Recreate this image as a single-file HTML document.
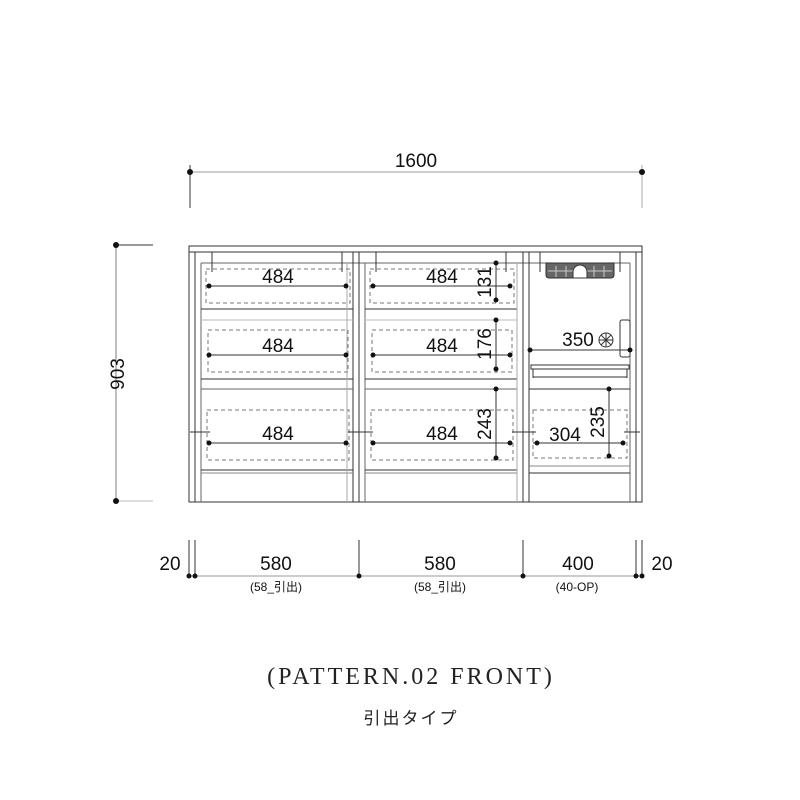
<!DOCTYPE html>
<html><head><meta charset="utf-8"><style>
html,body{margin:0;padding:0;background:#fff;}
svg{display:block}
text{font-family:"Liberation Sans","Noto Sans CJK JP",sans-serif;fill:#111}
</style></head><body>
<svg width="800" height="800" viewBox="0 0 800 800" xmlns="http://www.w3.org/2000/svg">
<g stroke="#333" stroke-width="1" fill="none">
<line x1="190" y1="172" x2="642" y2="172" stroke="#999"/>
<line x1="190" y1="165" x2="190" y2="208"/>
<line x1="642" y1="165" x2="642" y2="208" stroke="#aaa"/>
<line x1="116" y1="245" x2="116" y2="501" stroke="#aaa" stroke-width="1.5"/>
<line x1="116" y1="245" x2="153" y2="245"/>
<line x1="116" y1="501" x2="153" y2="501" stroke="#bbb"/>
<rect x="189" y="246" width="453" height="256"/>
<line x1="189" y1="252" x2="642" y2="252"/>
<line x1="195" y1="252" x2="195" y2="502"/>
<line x1="201" y1="263" x2="201" y2="502" stroke="#666"/>
<line x1="636" y1="252" x2="636" y2="502"/>
<line x1="630" y1="263" x2="630" y2="502" stroke="#666"/>
<line x1="201" y1="263" x2="630" y2="263" stroke="#666"/>
<line x1="353" y1="252" x2="353" y2="502"/>
<line x1="359" y1="252" x2="359" y2="502"/>
<line x1="365" y1="263" x2="365" y2="502" stroke="#666"/>
<line x1="523" y1="252" x2="523" y2="502"/>
<line x1="529" y1="252" x2="529" y2="502"/>
<line x1="212" y1="252" x2="212" y2="272"/><line x1="342" y1="252" x2="342" y2="272"/>
<line x1="376" y1="252" x2="376" y2="272"/><line x1="506" y1="252" x2="506" y2="272"/>
<line x1="540" y1="252" x2="540" y2="272"/><line x1="620" y1="252" x2="620" y2="272"/>
<line x1="201" y1="309" x2="353" y2="309"/>
<line x1="201" y1="320" x2="353" y2="320" stroke="#bbb"/>
<line x1="201" y1="379" x2="353" y2="379"/>
<line x1="201" y1="389" x2="353" y2="389" stroke="#666"/>
<line x1="201" y1="470" x2="353" y2="470"/>
<line x1="201" y1="473" x2="353" y2="473" stroke="#888"/>
<line x1="365" y1="309" x2="517" y2="309"/>
<line x1="365" y1="320" x2="517" y2="320" stroke="#bbb"/>
<line x1="365" y1="379" x2="517" y2="379"/>
<line x1="365" y1="389" x2="517" y2="389" stroke="#666"/>
<line x1="365" y1="470" x2="517" y2="470"/>
<line x1="365" y1="473" x2="517" y2="473" stroke="#888"/>
<line x1="517" y1="263" x2="517" y2="502" stroke="#aaa"/>
<line x1="347" y1="263" x2="347" y2="502" stroke="#aaa"/>
<g stroke-dasharray="4,3" stroke="#777">
<rect x="206" y="269" width="144" height="34"/>
<rect x="208" y="330" width="140" height="42"/>
<rect x="207" y="410" width="142" height="50"/>
<rect x="370" y="269" width="144" height="34"/>
<rect x="372" y="330" width="140" height="42"/>
<rect x="371" y="410" width="142" height="50"/>
<rect x="533" y="410" width="94" height="48"/>
</g>
<line x1="190" y1="432" x2="210" y2="432"/>
<line x1="348" y1="432" x2="373" y2="432"/>
<line x1="512" y1="432" x2="536" y2="432"/>
<line x1="624" y1="432" x2="640" y2="432"/>
<line x1="209" y1="286" x2="346" y2="286"/>
<line x1="209" y1="355" x2="346" y2="355"/>
<line x1="209" y1="443" x2="346" y2="443"/>
<line x1="373" y1="286" x2="510" y2="286"/>
<line x1="373" y1="355" x2="510" y2="355"/>
<line x1="373" y1="443" x2="510" y2="443"/>
<line x1="496" y1="263" x2="496" y2="300"/>
<line x1="496" y1="320" x2="496" y2="369"/>
<line x1="496" y1="389" x2="496" y2="458"/>
<line x1="609" y1="389" x2="609" y2="456"/>
<line x1="529" y1="389" x2="630" y2="389"/>
<line x1="533" y1="443" x2="623" y2="443"/>
<line x1="529" y1="466" x2="630" y2="466" stroke="#888"/>
<line x1="529" y1="473" x2="630" y2="473"/>
<line x1="530" y1="350" x2="630" y2="350"/>
<rect x="531" y="365" width="98" height="4"/>
<line x1="533" y1="369" x2="533" y2="378"/><line x1="627" y1="369" x2="627" y2="378"/>
<line x1="533" y1="377" x2="627" y2="377"/>
<rect x="620" y="320" width="10" height="37" rx="2"/>
<circle cx="606" cy="340" r="7"/>
<line x1="599" y1="340" x2="613" y2="340"/><line x1="606" y1="333" x2="606" y2="347"/>
<line x1="601" y1="335" x2="611" y2="345"/><line x1="611" y1="335" x2="601" y2="345"/>
</g>
<path d="M546 263 H614 V275 Q614 278 611 278 H549 Q546 278 546 275 Z" fill="#666" stroke="#333"/>
<g stroke="#ccc" stroke-width="1"><line x1="556" y1="266" x2="556" y2="277"/><line x1="566" y1="266" x2="566" y2="277"/><line x1="594" y1="266" x2="594" y2="277"/><line x1="604" y1="266" x2="604" y2="277"/><line x1="548" y1="271" x2="612" y2="271"/></g>
<path d="M573 278 V272 A7 7 0 0 1 587 272 V278 Z" fill="#fff" stroke="#333"/>
<g fill="#111">
<circle cx="190" cy="172" r="3"/><circle cx="642" cy="172" r="3"/>
<circle cx="116" cy="245" r="3"/><circle cx="116" cy="501" r="3"/>
<circle cx="209" cy="286" r="2.5"/><circle cx="346" cy="286" r="2.5"/>
<circle cx="209" cy="355" r="2.5"/><circle cx="346" cy="355" r="2.5"/>
<circle cx="209" cy="443" r="2.5"/><circle cx="346" cy="443" r="2.5"/>
<circle cx="373" cy="286" r="2.5"/><circle cx="510" cy="286" r="2.5"/>
<circle cx="373" cy="355" r="2.5"/><circle cx="510" cy="355" r="2.5"/>
<circle cx="373" cy="443" r="2.5"/><circle cx="510" cy="443" r="2.5"/>
<circle cx="496" cy="263" r="2.5"/><circle cx="496" cy="300" r="2.5"/>
<circle cx="496" cy="320" r="2.5"/><circle cx="496" cy="369" r="2.5"/>
<circle cx="496" cy="389" r="2.5"/><circle cx="496" cy="458" r="2.5"/>
<circle cx="609" cy="389" r="2.5"/><circle cx="609" cy="456" r="2.5"/>
<circle cx="537" cy="443" r="2.5"/><circle cx="623" cy="443" r="2.5"/>
<circle cx="530" cy="350" r="2.5"/><circle cx="630" cy="350" r="2.5"/>
</g>
<g stroke="#333">
<line x1="190" y1="576" x2="643" y2="576" stroke="#999"/>
<line x1="189" y1="540" x2="189" y2="578"/><line x1="195" y1="540" x2="195" y2="578"/>
<line x1="359" y1="540" x2="359" y2="578"/><line x1="523" y1="540" x2="523" y2="578"/>
<line x1="636" y1="540" x2="636" y2="578"/><line x1="642" y1="540" x2="642" y2="578"/>
</g>
<g fill="#111">
<circle cx="189" cy="576" r="2.5"/><circle cx="195" cy="576" r="2.5"/><circle cx="359" cy="576" r="2.5"/>
<circle cx="523" cy="576" r="2.5"/><circle cx="636" cy="576" r="2.5"/><circle cx="642" cy="576" r="2.5"/>
</g>
<g font-size="19" text-anchor="middle">
<text x="416" y="167">1600</text>
<text x="278" y="283">484</text><text x="442" y="283">484</text>
<text x="278" y="352">484</text><text x="442" y="352">484</text>
<text x="278" y="440">484</text><text x="442" y="440">484</text>
<text x="578" y="346">350</text>
<text x="565" y="441">304</text>
<text x="170" y="570">20</text><text x="662" y="570">20</text>
<text x="276" y="570">580</text><text x="440" y="570">580</text><text x="578" y="570">400</text>
<text transform="translate(491,282) rotate(-90)">131</text>
<text transform="translate(491,344) rotate(-90)">176</text>
<text transform="translate(491,424) rotate(-90)">243</text>
<text transform="translate(604,422) rotate(-90)">235</text>
<text transform="translate(124,374) rotate(-90)">903</text>
</g>
<g font-size="12" text-anchor="middle">
<text x="276" y="591">(58_引出)</text><text x="440" y="591">(58_引出)</text><text x="577" y="591">(40-OP)</text>
</g>
<text x="411" y="684" text-anchor="middle" font-size="24" letter-spacing="3" style="font-family:'Liberation Serif',serif;fill:#222">(PATTERN.02 FRONT)</text>
<text x="411" y="724" text-anchor="middle" font-size="17" letter-spacing="2" style="fill:#222">引出タイプ</text>
</svg>
</body></html>
